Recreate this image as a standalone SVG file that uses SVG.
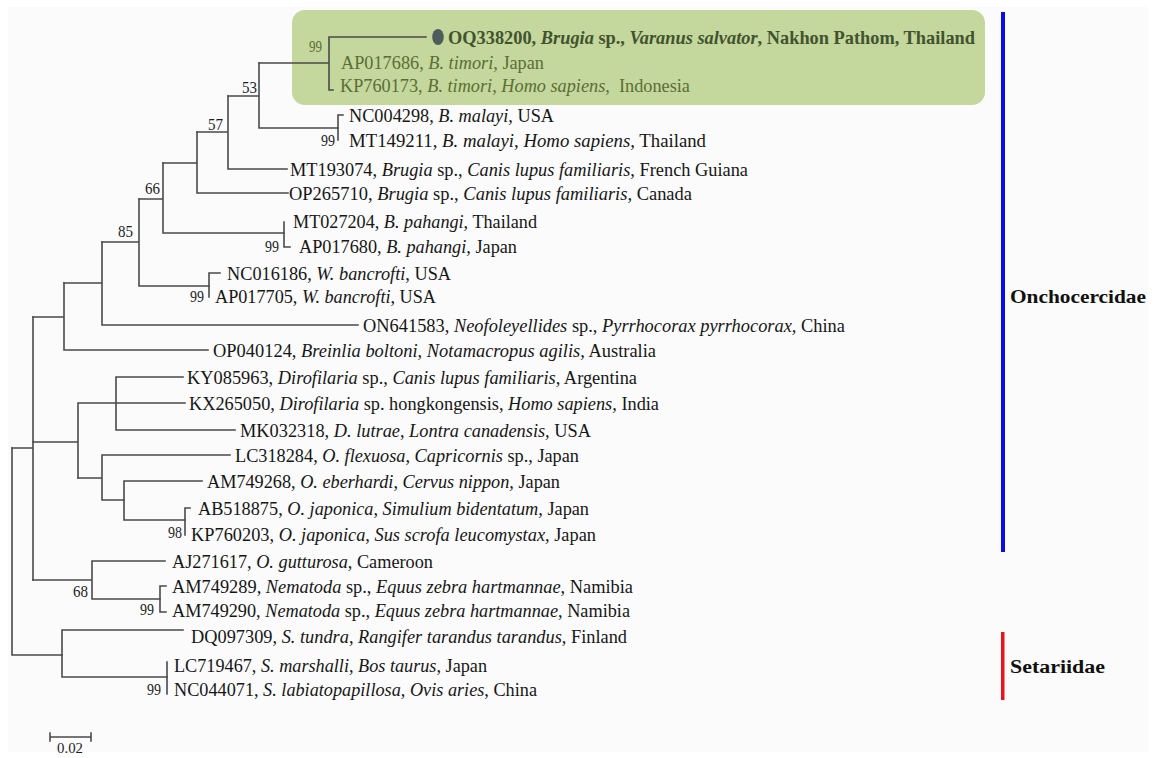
<svg xmlns="http://www.w3.org/2000/svg" width="1160" height="758" viewBox="0 0 1160 758">
<style>
.bg{fill:#fbfbfb}
.br{fill:none;stroke:#4a4a4a;stroke-width:1.6;stroke-linecap:square}
.lf{font-family:"Liberation Serif","Times New Roman",serif;font-size:18.3px;fill:#161616}
.hl{fill:#5b6e35}
.bold{font-weight:bold;fill:#42532f}
.bs{font-family:"Liberation Serif","Times New Roman",serif;font-size:16.5px;fill:#1e1e1e}
.bsh{fill:#5b6e35}
.fam{font-family:"Liberation Serif","Times New Roman",serif;font-size:18px;font-weight:bold;fill:#111}
.it{font-style:italic}
</style>
<rect x="0" y="0" width="1160" height="758" fill="#ffffff"/>
<rect class="bg" x="8" y="7" width="1140" height="745"/>
<g id="highlight">
<rect x="292" y="10" width="693" height="95" rx="13" ry="13" fill="#c4d79c"/>
</g>
<g id="connectors">
<path class="br" d="M329,37V90M329,37H426M329,90H333M259,63H329"/>
<path class="br" d="M259,63V128M259,128H338M228,96H259"/>
<path class="br" d="M338,115V140M338,115H343"/>
<path class="br" d="M228,96V169M228,169H287M197,132H228"/>
<path class="br" d="M197,132V193M197,193H288M163,163H197"/>
<path class="br" d="M163,163V233M163,233H284M139,199H163"/>
<path class="br" d="M284,222V247M284,247H290"/>
<path class="br" d="M139,199V286M139,286H209M102,242H139"/>
<path class="br" d="M209,273V297M209,273H220"/>
<path class="br" d="M102,242V325M102,325H358M64,283H102"/>
<path class="br" d="M64,283V350M64,350H208M33,317H64"/>
<path class="br" d="M33,317V580M12,448H33"/>
<path class="br" d="M33,442H78M78,403V478M78,403H185"/>
<path class="br" d="M116,377V430M116,377H183M116,430H235"/>
<path class="br" d="M78,478H102M102,455V500M102,455H230M102,500H124"/>
<path class="br" d="M124,481V520M124,481H202M124,520H185"/>
<path class="br" d="M185,508V535M185,508H190"/>
<path class="br" d="M33,580H92M92,561V599M92,561H165M92,599H160"/>
<path class="br" d="M160,586V612M160,586H166M160,612H166"/>
<path class="br" d="M12,448V655M12,655H62"/>
<path class="br" d="M62,630V677M62,630H183M62,677H167"/>
<path class="br" d="M167,662V694"/>
</g>
<g id="n-OQ338200">
<ellipse cx="438" cy="37" rx="5.8" ry="8" fill="#4c5d5a"/>
<text class="lf bold" x="448" y="44" textLength="527" lengthAdjust="spacingAndGlyphs">OQ338200, <tspan class="it">Brugia</tspan> sp., <tspan class="it">Varanus salvator</tspan>, Nakhon Pathom, Thailand</text>
</g>
<g id="n-AP017686"><text class="lf hl" x="341" y="69" textLength="203" lengthAdjust="spacingAndGlyphs">AP017686, <tspan class="it">B. timori</tspan>, Japan</text></g>
<g id="n-KP760173"><text class="lf hl" x="340" y="92" textLength="350" lengthAdjust="spacingAndGlyphs">KP760173, <tspan class="it">B. timori</tspan>, <tspan class="it">Homo sapiens</tspan>,&#160; Indonesia</text></g>
<g id="n-NC004298"><text class="lf" x="349" y="122" textLength="205" lengthAdjust="spacingAndGlyphs">NC004298, <tspan class="it">B. malayi</tspan>, USA</text></g>
<g id="n-MT149211"><text class="lf" x="349" y="147" textLength="357" lengthAdjust="spacingAndGlyphs">MT149211, <tspan class="it">B. malayi, Homo sapiens,</tspan> Thailand</text></g>
<g id="n-MT193074"><text class="lf" x="290" y="176" textLength="458" lengthAdjust="spacingAndGlyphs">MT193074, <tspan class="it">Brugia</tspan> sp., <tspan class="it">Canis lupus familiaris</tspan>, French Guiana</text></g>
<g id="n-OP265710"><text class="lf" x="289" y="200" textLength="403" lengthAdjust="spacingAndGlyphs">OP265710, <tspan class="it">Brugia</tspan> sp., <tspan class="it">Canis lupus familiaris,</tspan> Canada</text></g>
<g id="n-MT027204"><text class="lf" x="293" y="228" textLength="244" lengthAdjust="spacingAndGlyphs">MT027204, <tspan class="it">B. pahangi,</tspan> Thailand</text></g>
<g id="n-AP017680"><text class="lf" x="299" y="253" textLength="218" lengthAdjust="spacingAndGlyphs">AP017680, <tspan class="it">B. pahangi,</tspan> Japan</text></g>
<g id="n-NC016186"><text class="lf" x="227" y="280" textLength="224" lengthAdjust="spacingAndGlyphs">NC016186, <tspan class="it">W. bancrofti</tspan>, USA</text></g>
<g id="n-AP017705"><text class="lf" x="215" y="303" textLength="221" lengthAdjust="spacingAndGlyphs">AP017705, <tspan class="it">W. bancrofti</tspan>, USA</text></g>
<g id="n-ON641583"><text class="lf" x="363" y="332" textLength="482" lengthAdjust="spacingAndGlyphs">ON641583, <tspan class="it">Neofoleyellides</tspan> sp., <tspan class="it">Pyrrhocorax pyrrhocorax,</tspan> China</text></g>
<g id="n-OP040124"><text class="lf" x="213" y="357" textLength="443" lengthAdjust="spacingAndGlyphs">OP040124, <tspan class="it">Breinlia boltoni</tspan>, <tspan class="it">Notamacropus agilis,</tspan> Australia</text></g>
<g id="n-KY085963"><text class="lf" x="187" y="384" textLength="450" lengthAdjust="spacingAndGlyphs">KY085963, <tspan class="it">Dirofilaria</tspan> sp., <tspan class="it">Canis lupus familiaris,</tspan> Argentina</text></g>
<g id="n-KX265050"><text class="lf" x="189" y="410" textLength="470" lengthAdjust="spacingAndGlyphs">KX265050, <tspan class="it">Dirofilaria</tspan> sp. hongkongensis, <tspan class="it">Homo sapiens,</tspan> India</text></g>
<g id="n-MK032318"><text class="lf" x="240" y="437" textLength="351" lengthAdjust="spacingAndGlyphs">MK032318, <tspan class="it">D. lutrae</tspan>, <tspan class="it">Lontra canadensis,</tspan> USA</text></g>
<g id="n-LC318284"><text class="lf" x="235" y="462" textLength="344" lengthAdjust="spacingAndGlyphs">LC318284, <tspan class="it">O. flexuosa</tspan>, <tspan class="it">Capricornis</tspan> sp., Japan</text></g>
<g id="n-AM749268"><text class="lf" x="207" y="488" textLength="353" lengthAdjust="spacingAndGlyphs">AM749268, <tspan class="it">O. eberhardi</tspan>, <tspan class="it">Cervus nippon,</tspan> Japan</text></g>
<g id="n-AB518875"><text class="lf" x="198" y="515" textLength="391" lengthAdjust="spacingAndGlyphs">AB518875, <tspan class="it">O. japonica</tspan>, <tspan class="it">Simulium bidentatum,</tspan> Japan</text></g>
<g id="n-KP760203"><text class="lf" x="191" y="541" textLength="405" lengthAdjust="spacingAndGlyphs">KP760203, <tspan class="it">O. japonica</tspan>, <tspan class="it">Sus scrofa leucomystax,</tspan> Japan</text></g>
<g id="n-AJ271617"><text class="lf" x="172" y="568" textLength="261" lengthAdjust="spacingAndGlyphs">AJ271617, <tspan class="it">O. gutturosa</tspan>, Cameroon</text></g>
<g id="n-AM749289"><text class="lf" x="172" y="593" textLength="461" lengthAdjust="spacingAndGlyphs">AM749289, <tspan class="it">Nematoda</tspan> sp., <tspan class="it">Equus zebra hartmannae</tspan>, Namibia</text></g>
<g id="n-AM749290"><text class="lf" x="172" y="617" textLength="458" lengthAdjust="spacingAndGlyphs">AM749290, <tspan class="it">Nematoda</tspan> sp., <tspan class="it">Equus zebra hartmannae</tspan>, Namibia</text></g>
<g id="n-DQ097309"><text class="lf" x="191" y="643" textLength="436" lengthAdjust="spacingAndGlyphs">DQ097309, <tspan class="it">S. tundra</tspan>, <tspan class="it">Rangifer tarandus tarandus</tspan>, Finland</text></g>
<g id="n-LC719467"><text class="lf" x="174" y="672" textLength="313" lengthAdjust="spacingAndGlyphs">LC719467, <tspan class="it">S. marshalli</tspan>, <tspan class="it">Bos taurus</tspan>, Japan</text></g>
<g id="n-NC044071"><text class="lf" x="174" y="696" textLength="363" lengthAdjust="spacingAndGlyphs">NC044071, <tspan class="it">S. labiatopapillosa</tspan>, <tspan class="it">Ovis aries</tspan>, China</text></g>
<g id="bootstrap">
<text class="bs bsh" x="309" y="52" textLength="13" lengthAdjust="spacingAndGlyphs">99</text>
<text class="bs" x="242" y="93" textLength="15" lengthAdjust="spacingAndGlyphs">53</text>
<text class="bs" x="208" y="130" textLength="15" lengthAdjust="spacingAndGlyphs">57</text>
<text class="bs" x="145" y="194" textLength="15" lengthAdjust="spacingAndGlyphs">66</text>
<text class="bs" x="118" y="237" textLength="15" lengthAdjust="spacingAndGlyphs">85</text>
<text class="bs" x="321" y="146" textLength="14" lengthAdjust="spacingAndGlyphs">99</text>
<text class="bs" x="265" y="252" textLength="14" lengthAdjust="spacingAndGlyphs">99</text>
<text class="bs" x="190" y="302" textLength="14" lengthAdjust="spacingAndGlyphs">99</text>
<text class="bs" x="168" y="538" textLength="14" lengthAdjust="spacingAndGlyphs">98</text>
<text class="bs" x="73" y="597" textLength="15" lengthAdjust="spacingAndGlyphs">68</text>
<text class="bs" x="140" y="615" textLength="14" lengthAdjust="spacingAndGlyphs">99</text>
<text class="bs" x="147" y="695" textLength="14" lengthAdjust="spacingAndGlyphs">99</text>
</g>
<g id="scale">
<path class="br" d="M50,737H91M50,733V741M91,733V741"/>
<text class="bs" x="57" y="753" style="font-size:15px" textLength="26" lengthAdjust="spacingAndGlyphs">0.02</text>
</g>
<g id="fam-onchocercidae">
<rect x="1001" y="12" width="4" height="540" fill="#0b0be8"/>
<text class="fam" x="1010" y="303" textLength="136" lengthAdjust="spacingAndGlyphs">Onchocercidae</text>
</g>
<g id="fam-setariidae">
<rect x="1001" y="632" width="3.5" height="68" fill="#e6141c"/>
<text class="fam" x="1010" y="673" textLength="95" lengthAdjust="spacingAndGlyphs">Setariidae</text>
</g>
</svg>
